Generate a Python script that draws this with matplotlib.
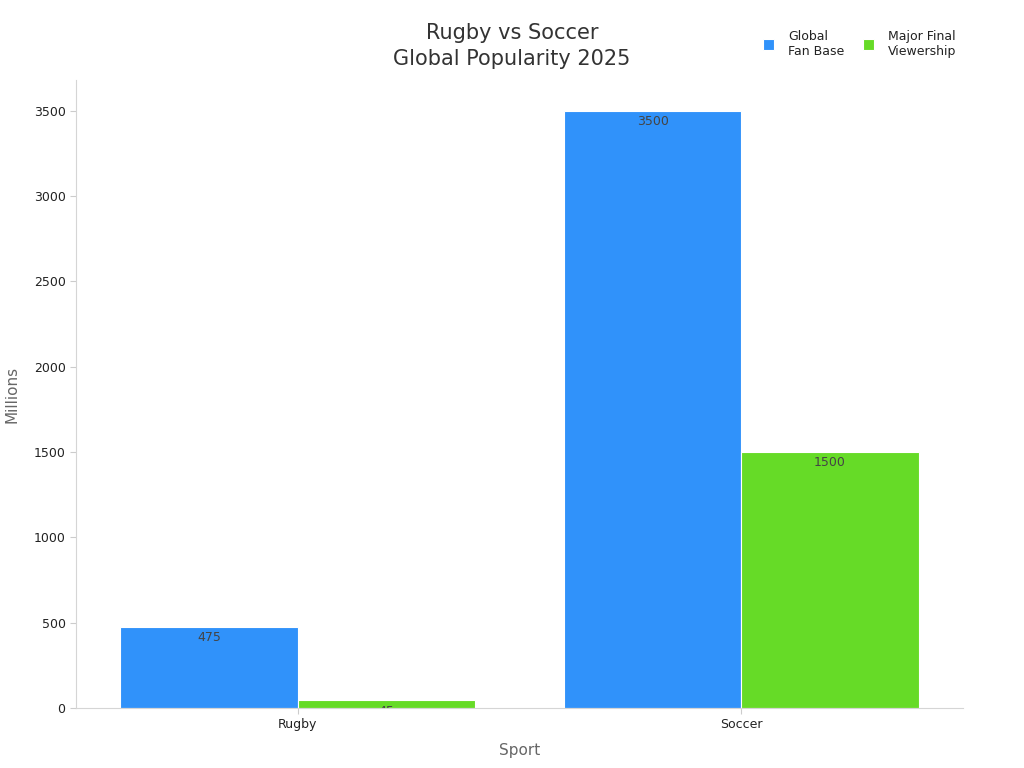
import matplotlib.pyplot as plt
import numpy as np

sports = ['Rugby', 'Soccer']
fan_base = [475, 3500]
final_viewers = [45, 1500]
series_names = ['Global\nFan Base', 'Major Final\nViewership']
colors = ['#3092fa', '#66db27']

fig = plt.figure(figsize=(10.24, 7.68), dpi=100)
ax = fig.add_axes([0.0742, 0.0781, 0.8662, 0.8177])

x = np.arange(len(sports))
w = 0.4
b1 = ax.bar(x - w / 2, fan_base, w, color=colors[0], edgecolor='white', linewidth=0.8, label=series_names[0])
b2 = ax.bar(x + w / 2, final_viewers, w, color=colors[1], edgecolor='white', linewidth=0.8, label=series_names[1])

# value labels just inside the bar tops, clipped to the bar
for bars, vals in [(b1, fan_base), (b2, final_viewers)]:
    for rect, v in zip(bars, vals):
        t = ax.annotate(str(v), (rect.get_x() + rect.get_width() / 2, v),
                        xytext=(0, -3), textcoords='offset points',
                        ha='center', va='top', fontsize=9, color='#444444')
        t.set_clip_path(rect)

ax.set_xlim(-0.5, 1.5)
ax.set_ylim(0, 3680)
ax.set_xticks(x)
ax.set_xticklabels(sports)
ax.set_yticks([0, 500, 1000, 1500, 2000, 2500, 3000, 3500])
ax.tick_params(labelsize=9, colors='#cccccc', labelcolor='#222222', length=4)

for s in ['top', 'right']:
    ax.spines[s].set_visible(False)
for s in ['left', 'bottom']:
    ax.spines[s].set_color('#d5d5d5')

ax.set_xlabel('Sport', fontsize=11, color='#666666', labelpad=8)
ax.set_ylabel('Millions', fontsize=11, color='#666666', labelpad=10)

fig.text(0.5, 0.94, 'Rugby vs Soccer\nGlobal Popularity 2025', ha='center', va='center',
         fontsize=15, color='#333333', linespacing=1.4)

fig.legend(handles=[b1, b2], loc='center right', bbox_to_anchor=(0.945, 0.943),
           bbox_transform=fig.transFigure, ncol=2, frameon=False,
           fontsize=9, handlelength=0.9, handleheight=0.9, handletextpad=1.1,
           columnspacing=1.5, labelcolor='#222222')

fig.savefig('out.png')
